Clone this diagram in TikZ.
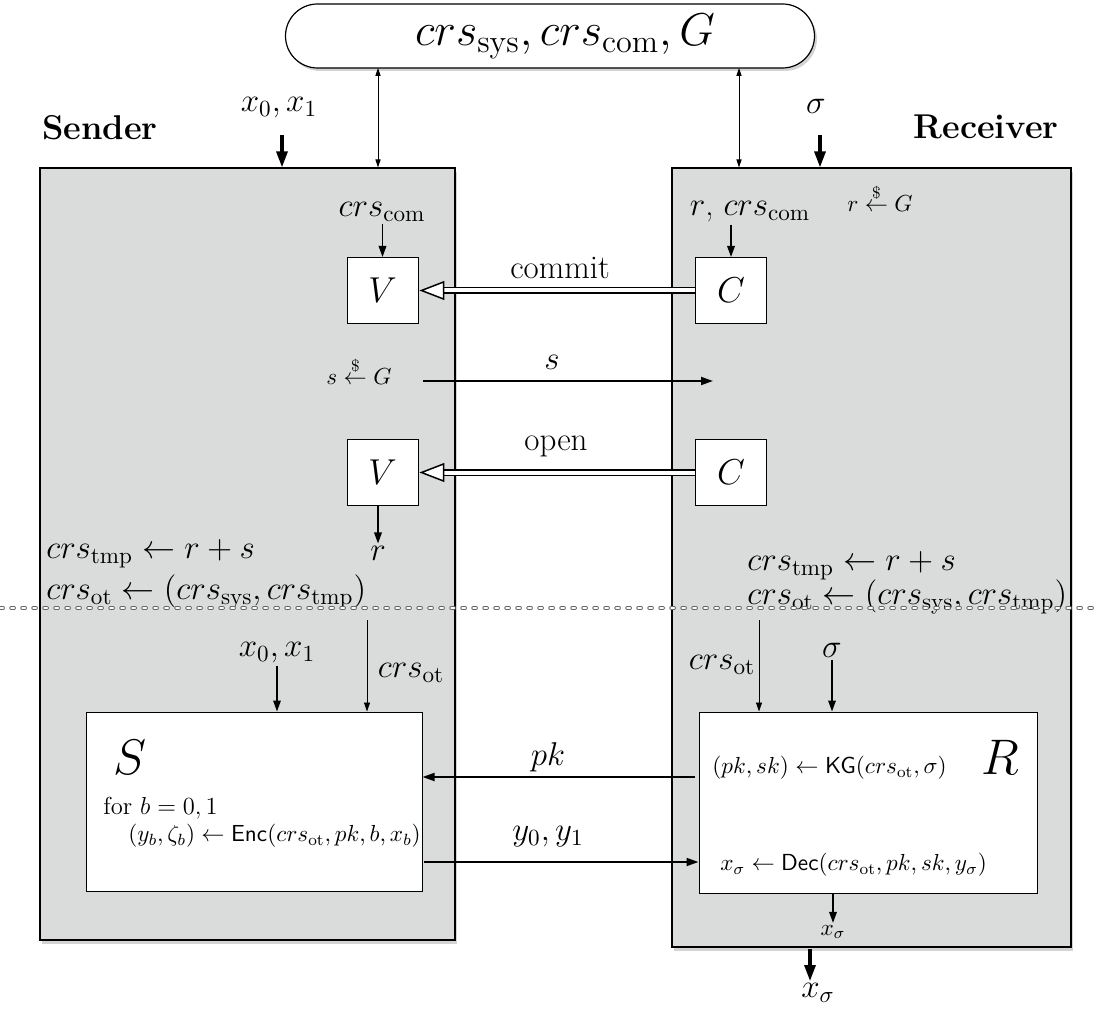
\RequirePackage{fix-cm}
\documentclass[tikz,border=0pt]{standalone}
\usepackage{amsmath}
\usetikzlibrary{arrows.meta,shadows,fit,calc}
\definecolor{boxgray}{RGB}{218,220,220}
\begin{document}
\begin{tikzpicture}[x=0.5pt,y=-0.5pt,
  lbl/.style={inner sep=1pt, font=\fontsize{16.5}{20}\selectfont},
  sml/.style={inner sep=1pt, font=\fontsize{11.6}{14}\selectfont},
  fortxt/.style={inner sep=1pt, font=\fontsize{12.3}{14}\selectfont},
  bigl/.style={inner sep=1pt, font=\fontsize{25}{28}\selectfont},
  namel/.style={inner sep=1pt, font=\fontsize{17.2}{20}\selectfont\bfseries},
  party/.style={draw, fill=boxgray, inner sep=0pt, line width=0.6pt,
     drop shadow={shadow xshift=1.2pt, shadow yshift=-2pt, opacity=0.35}},
  wbox/.style={draw, fill=white, inner sep=0pt, line width=0.5pt},
  vbox/.style={draw, fill=white, line width=0.5pt, minimum width=35.5pt,
     minimum height=33pt, inner sep=0pt, font=\fontsize{18}{20}\selectfont},
  arr/.style={line width=0.75pt, -{Triangle[length=5.5pt,width=3.8pt]}},
  thinarr/.style={line width=0.4pt, -{Triangle[length=4.5pt,width=3pt]}},
  biarr/.style={line width=0.4pt, {Triangle[length=4pt,width=2.6pt]}-{Triangle[length=4pt,width=2.6pt]}},
  thickarr/.style={line width=1.6pt, -{Triangle[length=8pt,width=5.5pt]}},
  msg/.style={line width=0.9pt, -{Triangle[length=6pt,width=4pt]}},
  dbl/.style={double, double distance=2pt, line width=0.75pt},
  openhead/.style={draw, fill=white, line width=0.75pt, line join=miter}
]
\useasboundingbox (0,0) rectangle (1096,1015);

% common reference string
\node[draw, fill=white, line width=0.6pt, rounded corners=16pt,
      minimum width=264.5pt, minimum height=32pt, inner sep=0pt,
      drop shadow={shadow xshift=1.2pt, shadow yshift=-1.5pt, opacity=0.35}] (env) at (550,36) {};
\node[inner sep=1pt, font=\fontsize{23}{26}\selectfont] (envtxt) at (565,36) {$crs_{\mathrm{sys}}, crs_{\mathrm{com}}, G$};

% parties
\node[party, fit={(40,168) (455,940)}] (sender) {};
\node[party, fit={(672,168) (1071,947)}] (receiver) {};

\node[namel] (sname) at (100,128) {Sender};
\node[namel] (rname) at (986,127) {Receiver};

% top inputs
\node[lbl] (sin) at (279,108) {$x_0, x_1$};
\coordinate (sinA) at (282,135);
\draw[thickarr] (sinA) -- (sinA |- sender.north);
\node[lbl] (rin) at (816,106) {$\sigma$};
\coordinate (rinA) at (820,135);
\draw[thickarr] (rinA) -- (rinA |- receiver.north);

% links to crs
\coordinate (lc) at (378,68);
\coordinate (rc) at (739,68);
\draw[biarr] (lc) -- (lc |- sender.north);
\draw[biarr] (rc) -- (rc |- receiver.north);

% commit phase
\node[lbl] (ccom) at (382,212) {$crs_{\mathrm{com}}$};
\node[vbox] (V1) at (382.5,290.5) {$V$};
\draw[arr] (V1.north |- ccom.south) -- (V1.north);

\node[lbl] (rcom) at (750,212) {$r$, $crs_{\mathrm{com}}$};
\node[vbox] (C1) at (731,290.5) {$C$};
\draw[arr] (C1.north |- rcom.south) -- (C1.north);
\node[sml] (rG) at (880,198) {$r \overset{\$}{\leftarrow} G$};

\node[lbl] (commitl) at (560,268) {commit};
\coordinate (h1) at ($(V1.east)+(3,0)$);
\draw[dbl] (C1.west) -- ($(h1)+(22,0)$);
\draw[openhead] (h1) -- ++(22,-8.5) -- ++(0,17) -- cycle;

% s
\node[sml] (sG) at (359,371) {$s \overset{\$}{\leftarrow} G$};
\coordinate (sA) at (423,381);
\coordinate (sB) at (713,381);
\draw[msg] (sA) -- (sB);
\node[lbl] (sl) at (552,362) {$s$};

% open phase
\node[vbox] (V2) at (382.5,472.5) {$V$};
\node[vbox] (C2) at (731,472.5) {$C$};
\node[lbl] (openl) at (556,446) {open};
\coordinate (h2) at ($(V2.east)+(3,0)$);
\draw[dbl] (C2.west) -- ($(h2)+(22,0)$);
\draw[openhead] (h2) -- ++(22,-8.5) -- ++(0,17) -- cycle;

\node[lbl] (rout) at (378,553) {$r$};
\draw[arr] (V2.south -| rout) -- (rout.north);

% crs derivation
\node[lbl, anchor=west] (stmp) at (44,554) {$crs_{\mathrm{tmp}} \leftarrow r + s$};
\node[lbl, anchor=west] (sot) at (44,592) {$crs_{\mathrm{ot}} \leftarrow (crs_{\mathrm{sys}}, crs_{\mathrm{tmp}})$};
\node[lbl, anchor=west] (rtmp) at (745,566) {$crs_{\mathrm{tmp}} \leftarrow r + s$};
\node[lbl, anchor=west] (rot) at (745,597) {$crs_{\mathrm{ot}} \leftarrow (crs_{\mathrm{sys}}, crs_{\mathrm{tmp}})$};

% dotted separator
\coordinate (dl) at (0,608);
\coordinate (dr) at (1096,608);
\draw[line width=1.7pt, draw=black!60, line cap=round, dash pattern=on 1.6pt off 3.9pt] (dl) -- (dr);
\draw[line width=0.75pt, draw=white, line cap=round, dash pattern=on 1.6pt off 3.9pt] (dl) -- (dr);

% OT sender
\node[wbox, fit={(86,712) (422,891)}] (Sbox) {};
\node[lbl] (x01) at (277,653) {$x_0, x_1$};
\draw[arr] (x01.south) -- (x01.south |- Sbox.north);
\coordinate (sotA) at (367,620);
\draw[thinarr] (sotA) -- (sotA |- Sbox.north);
\node[lbl] (sotl) at (411,673) {$crs_{\mathrm{ot}}$};
\node[bigl] (Slab) at (130,757) {$S$};
\node[fortxt, anchor=west] (forl) at (101,808) {for $b = 0, 1$};
\node[sml, anchor=west] (encl) at (126,836) {$(y_b,\zeta_b) \leftarrow \mathsf{Enc}(crs_{\mathrm{ot}}, pk, b, x_b)$};

% OT receiver
\node[wbox, fit={(699,712) (1037,893)}] (Rbox) {};
\node[lbl] (rotl) at (722,665) {$crs_{\mathrm{ot}}$};
\coordinate (rotA) at (759,620);
\draw[thinarr] (rotA) -- (rotA |- Rbox.north);
\node[lbl] (sig2) at (832,650) {$\sigma$};
\draw[arr] (sig2.south) -- (sig2.south |- Rbox.north);
\node[bigl] (Rlab) at (1000,757) {$R$};
\node[sml, anchor=west] (kgl) at (710,768) {$(pk, sk) \leftarrow \mathsf{KG}(crs_{\mathrm{ot}}, \sigma)$};
\node[sml, anchor=west] (decl) at (718,865) {$x_\sigma \leftarrow \mathsf{Dec}(crs_{\mathrm{ot}}, pk, sk, y_\sigma)$};

% messages
\coordinate (pkA) at (695,777);
\draw[msg] (pkA) -- (pkA -| Sbox.east);
\node[lbl] (pkl) at (548,757) {$pk$};
\coordinate (yA) at (424,862);
\draw[msg] (yA) -- (yA -| Rbox.west);
\node[lbl] (yl) at (548,837) {$y_0, y_1$};

% outputs
\node[sml] (xsig) at (833,932) {$x_\sigma$};
\draw[arr] (Rbox.south -| xsig) -- (xsig.north);
\coordinate (xoA) at (810,949);
\node[lbl] (xout) at (818,993) {$x_\sigma$};
\draw[thickarr] (xoA) -- (xoA |- xout.north);
\end{tikzpicture}
\end{document}
